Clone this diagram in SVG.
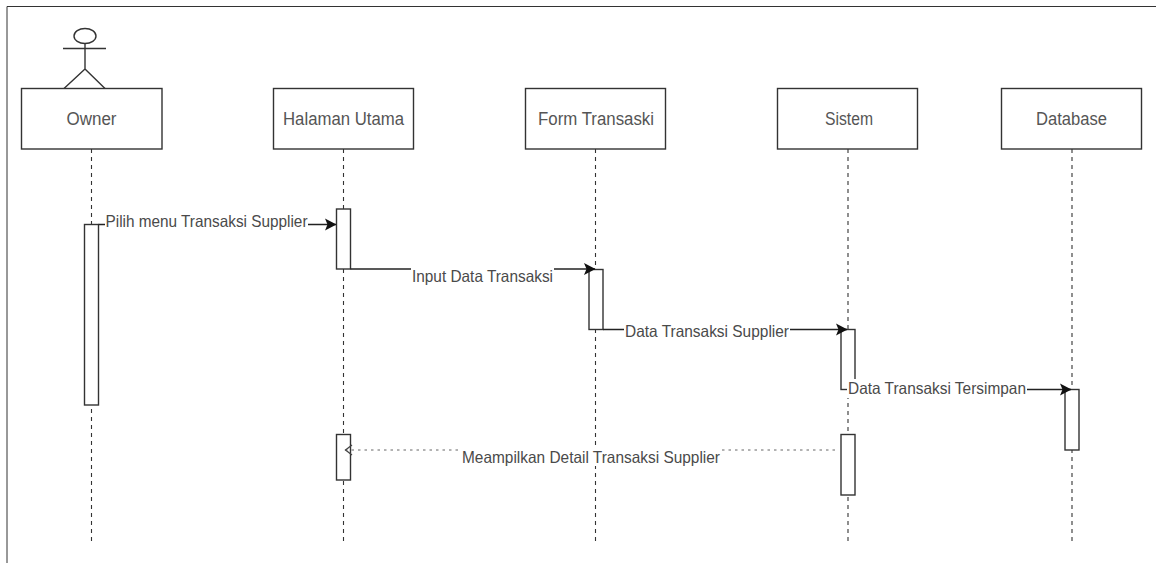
<svg xmlns="http://www.w3.org/2000/svg" width="1156" height="563" viewBox="0 0 1156 563">
<style>
.box{fill:#fff;stroke:#333;stroke-width:1.4}
.act{fill:#fff;stroke:#333;stroke-width:1.4}
.life{fill:none;stroke:#333;stroke-width:1.1;stroke-dasharray:4 4}
.msg{fill:none;stroke:#222;stroke-width:1.4}
.ret{fill:none;stroke:#666;stroke-width:1;stroke-dasharray:2.5 4}
text{font-family:"Liberation Sans",Arial,sans-serif;font-size:17.5px;fill:#555}
.lab{font-size:16.500px;fill:#4a4a4a}
</style>
<defs>
<marker id="arrow" viewBox="0 0 13 13" refX="12" refY="6.500" markerWidth="13" markerHeight="13" markerUnits="userSpaceOnUse" orient="auto"><path d="M1 .5L12.500 6.500L1 12.500L3.500 6.500Z" fill="#111"/></marker>
</defs>
<rect width="1156" height="563" fill="#fff"/>
<path id="frame" d="M1156 6.500H7V563" fill="none" stroke="#333" stroke-width="1"/>
<g id="lifelines">
<path class="life" d="M91.500 149V224M91.500 541V405"/>
<path class="life" d="M343.500 149V209M343.500 269V435M343.500 541V480"/>
<path class="life" d="M595.500 149V269M595.500 541V329"/>
<path class="life" d="M848 149V329M848 395V435M848 541V495"/>
<path class="life" d="M1072 149V390M1072 541V450"/>
</g>
<g id="actor-owner" fill="none" stroke="#333" stroke-width="1.400">
<ellipse cx="85" cy="36" rx="11" ry="7.500"/>
<path d="M63 48.500H106M85 43.500V69M85 69L64 88.500M85 69L105 88.500"/>
</g>
<g id="owner"><rect class="box" x="21.500" y="88.500" width="140.500" height="60.500"/><text x="66.500" y="124.500" textLength="50" lengthAdjust="spacingAndGlyphs">Owner</text></g>
<g id="halaman"><rect class="box" x="273.500" y="88.500" width="140" height="60.500"/><text x="283" y="124.500" textLength="121" lengthAdjust="spacingAndGlyphs">Halaman Utama</text></g>
<g id="form"><rect class="box" x="525.500" y="88.500" width="140" height="60.500"/><text x="538" y="124.500" textLength="116" lengthAdjust="spacingAndGlyphs">Form Transaski</text></g>
<g id="sistem"><rect class="box" x="777.500" y="88.500" width="140" height="60.500"/><text x="825" y="124.500" textLength="48" lengthAdjust="spacingAndGlyphs">Sistem</text></g>
<g id="database"><rect class="box" x="1001.500" y="88.500" width="140" height="60.500"/><text x="1036" y="124.500" textLength="71" lengthAdjust="spacingAndGlyphs">Database</text></g>
<g id="act-owner"><rect class="act" x="84.500" y="224.500" width="14" height="180.500"/></g>
<g id="act-halaman-1"><rect class="act" x="336.500" y="209" width="14" height="60"/></g>
<g id="act-form"><rect class="act" x="589" y="269.500" width="14" height="60"/></g>
<g id="act-sistem-1"><rect class="act" x="841" y="329.500" width="14" height="60"/></g>
<g id="act-database"><rect class="act" x="1065" y="389.500" width="14" height="60.500"/></g>
<g id="act-halaman-2"><rect class="act" x="336.500" y="434.500" width="14" height="45.500"/></g>
<g id="act-sistem-2"><rect class="act" x="841" y="434.500" width="14" height="60.500"/></g>
<g id="connectors">
<path class="msg" d="M98.500 224.500H336" marker-end="url(#arrow)"/>
<path class="msg" d="M350.500 269H595" marker-end="url(#arrow)"/>
<path class="msg" d="M603 329.500H847" marker-end="url(#arrow)"/>
<path class="msg" d="M855 389.500H1071" marker-end="url(#arrow)"/>
<path class="ret" d="M835 450H345"/>
<path fill="none" stroke="#444" stroke-width="1.300" d="M352 445L345.500 450L352 455"/>
</g>
<g id="labels">
<rect x="105" y="214" width="203" height="18" fill="#fff"/><text class="lab" x="105.500" y="227" textLength="202" lengthAdjust="spacingAndGlyphs">Pilih menu Transaksi Supplier</text>
<rect x="411" y="267" width="143" height="19" fill="#fff"/><text class="lab" x="412" y="281.500" textLength="141" lengthAdjust="spacingAndGlyphs">Input Data Transaksi</text>
<rect x="624" y="322" width="166" height="17" fill="#fff"/><text class="lab" x="625" y="336.500" textLength="164" lengthAdjust="spacingAndGlyphs">Data Transaksi Supplier</text>
<rect x="847" y="379" width="180" height="19" fill="#fff"/><text class="lab" x="848" y="394" textLength="178" lengthAdjust="spacingAndGlyphs">Data Transaksi Tersimpan</text>
<rect x="461" y="449" width="261" height="17" fill="#fff"/><text class="lab" x="462" y="463" textLength="258" lengthAdjust="spacingAndGlyphs">Meampilkan Detail Transaksi Supplier</text>
</g>
</svg>
